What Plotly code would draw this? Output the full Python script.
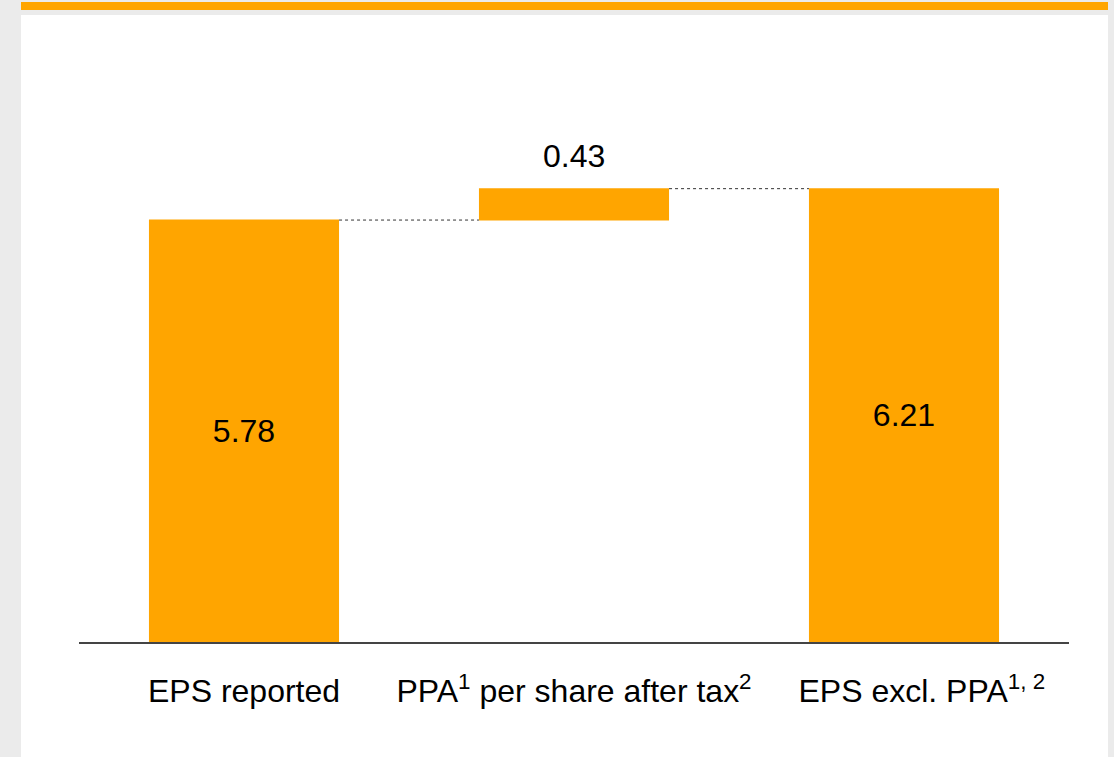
import plotly.graph_objects as go

categories = ["EPS reported", "PPA<sup>1</sup> per share after tax<sup>2</sup>",
              "&nbsp;&nbsp;&nbsp;&nbsp;EPS excl. PPA<sup>1, 2</sup>"]
values = [5.78, 0.43, 6.21]
measures = ["absolute", "relative", "total"]
labels = ["5.78", "0.43", "6.21"]

ORANGE = "#FFA500"
FONT = "Liberation Sans, Arial, sans-serif"

fig = go.Figure()
fig.add_trace(go.Waterfall(
    x=categories,
    y=values,
    measure=measures,
    text=[labels[0], "", labels[2]],
    textposition=["inside", "none", "inside"],
    insidetextanchor="middle",
    textfont=dict(family=FONT, size=32, color="black"),
    width=[0.576] * 3,
    increasing=dict(marker=dict(color=ORANGE, line=dict(width=0))),
    decreasing=dict(marker=dict(color=ORANGE, line=dict(width=0))),
    totals=dict(marker=dict(color=ORANGE, line=dict(width=0))),
    connector=dict(mode="between", line=dict(color="#333333", width=1, dash="dot")),
    hoverinfo="skip",
))

# label above the relative bar
fig.add_annotation(
    x=categories[1], y=values[0] + values[1], xref="x", yref="y",
    text=labels[1], showarrow=False, yanchor="bottom", yshift=13,
    font=dict(family=FONT, size=32, color="black"),
)

L, R, T, B = 79, 45, 58, 115
W, H = 1114, 757
pw, ph = W - L - R, H - T - B

def px_x(x):
    return (x - L) / pw

def px_y(y):
    return (H - B - y) / ph

# white panel
fig.add_shape(type="rect", xref="paper", yref="paper",
              x0=px_x(21), x1=px_x(1108), y0=px_y(770), y1=px_y(15),
              fillcolor="white", line=dict(width=0), layer="below")
# orange top strip
fig.add_shape(type="rect", xref="paper", yref="paper",
              x0=px_x(21), x1=px_x(1108), y0=px_y(10), y1=px_y(2),
              fillcolor=ORANGE, line=dict(width=0), layer="below")

fig.update_layout(
    width=W, height=H,
    margin=dict(l=L, r=R, t=T, b=B),
    paper_bgcolor="#ebebeb",
    plot_bgcolor="rgba(0,0,0,0)",
    showlegend=False,
    font=dict(family=FONT, color="black"),
)
fig.update_xaxes(
    type="category",
    range=[-0.5, 2.5],
    showline=True, linecolor="#444444", linewidth=1.5,
    showgrid=False, zeroline=False,
    ticks="outside", ticklen=20, tickcolor="rgba(0,0,0,0)",
    tickfont=dict(family=FONT, size=32, color="black"),
    fixedrange=True,
)
fig.update_yaxes(
    range=[0, 8], visible=False, showgrid=False, zeroline=False, fixedrange=True,
)

fig.write_html(
    "out.html",
    config={"displayModeBar": False},
    post_script="document.body.style.margin='0';document.body.style.overflow='hidden';document.body.style.background='#ebebeb';",
)
